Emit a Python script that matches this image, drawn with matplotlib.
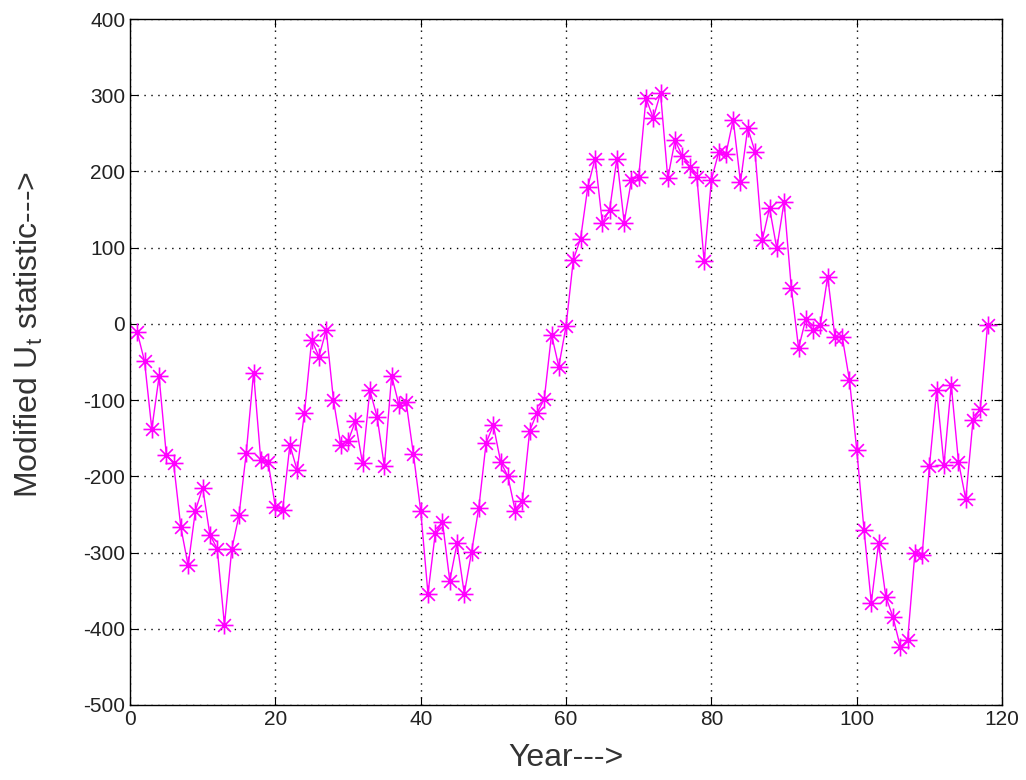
import matplotlib
matplotlib.use('Agg')
import matplotlib.pyplot as plt
from matplotlib.path import Path
import numpy as np

# yearly modified Ut statistic values
years = list(range(1, 119))
ut = [-11, -49, -138, -69, -172, -183, -267, -317, -245, -215,
      -277, -295, -395, -296, -251, -169, -64, -179, -181, -240,
      -244, -159, -192, -117, -21, -43, -8, -100, -159, -154,
      -128, -183, -87, -122, -187, -68, -106, -103, -171, -245,
      -354, -275, -260, -337, -288, -354, -299, -241, -156, -133,
      -181, -200, -245, -232, -140, -117, -99, -14, -56, -3,
      84, 112, 180, 217, 132, 150, 217, 133, 189, 193,
      296, 270, 303, 191, 241, 220, 206, 193, 82, 189,
      225, 223, 268, 186, 257, 226, 110, 152, 99, 160,
      47, -32, 7, -8, -1, 62, -17, -17, -74, -165,
      -270, -366, -288, -358, -385, -424, -415, -301, -303, -187,
      -87, -185, -80, -181, -230, -126, -112, -1]

xticks = np.arange(0, 121, 20)
yticks = np.arange(-500, 401, 100)

# MATLAB style asterisk: plus and cross overlaid
d = 0.7071
verts = [(-1, 0), (1, 0), (0, -1), (0, 1), (-d, -d), (d, d), (-d, d), (d, -d)]
codes = [Path.MOVETO, Path.LINETO] * 4
asterisk = Path(verts, codes)

plt.rcParams['font.family'] = ['Liberation Sans', 'DejaVu Sans']
plt.rcParams['axes.unicode_minus'] = False

fig = plt.figure(figsize=(10.26, 7.8), dpi=100)
ax = fig.add_axes([0.1267, 0.0962, 0.85, 0.8794])

ax.plot(years, ut, color='#ff00ff', linewidth=1.0, marker=asterisk,
        markersize=13, markeredgewidth=1.2)

ax.set_xlim(0, 120)
ax.set_ylim(-500, 400)
ax.set_xticks(xticks)
ax.set_yticks(yticks)
ax.grid(True, color='black', linestyle=(0, (1, 4)), linewidth=1.0)
ax.tick_params(direction='in', length=6, labelsize=15, top=True, right=True,
               labelcolor='#222222')
for s in ax.spines.values():
    s.set_linewidth(1.0)

ax.set_xlabel('Year--->', fontsize=23, color='#333333', labelpad=10)
ax.set_ylabel('Modified U$_\\mathregular{t}$ statistic--->', fontsize=23,
              color='#333333')
ax.yaxis.set_label_coords(-0.098, 0.54)

plt.savefig('out.png', dpi=100)
